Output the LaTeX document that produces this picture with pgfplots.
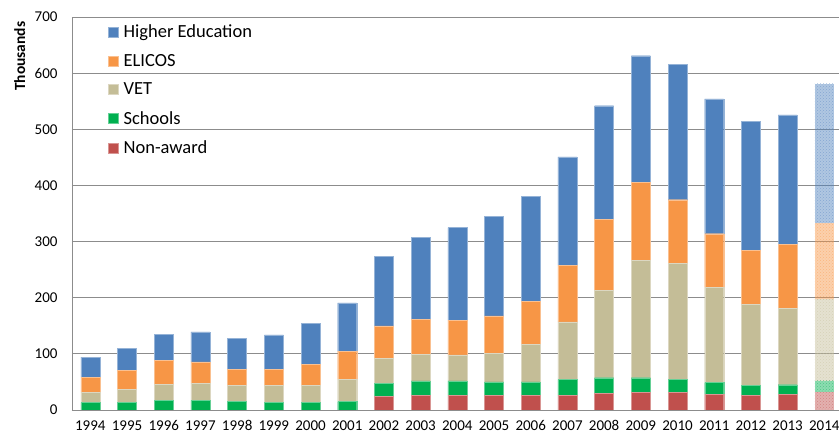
\documentclass[border=0pt]{standalone}
\usepackage{pgfplots}
\pgfplotsset{compat=1.18}
\usepackage{fontspec}
\setmainfont{Carlito}
\usetikzlibrary{patterns}
\definecolor{cHE}{HTML}{4F81BD}
\definecolor{cEL}{HTML}{F79646}
\definecolor{cVET}{HTML}{C4BD97}
\definecolor{cSch}{HTML}{00B050}
\definecolor{cNA}{HTML}{C0504D}
\definecolor{gridc}{HTML}{8C8C8C}
\pgfplotsset{
  base/.style={
    scale only axis, width=767pt, height=393pt,
    xmin=-0.5, xmax=20.4, ymin=0, ymax=700,
    ybar stacked, bar width=19pt,
    axis x line*=bottom, axis y line*=left,
    axis line style={gridc, line width=0.8pt},
    major tick length=0pt,
  },
}
\begin{document}
\begin{tikzpicture}
\path[use as bounding box] (-72pt,-29pt) rectangle (767pt,410pt);
\begin{axis}[base,
  ytick={0,100,...,700},
  ymajorgrids, grid style={gridc, line width=0.8pt},
  xtick={0,...,20},
  xticklabels={1994,1995,1996,1997,1998,1999,2000,2001,2002,2003,2004,2005,2006,2007,2008,2009,2010,2011,2012,2013,2014},
  /pgf/number format/assume math mode=true,
  ticklabel style={font=\fontsize{15}{18}\selectfont},
  yticklabel style={xshift=-11pt},
  xticklabel style={yshift=-7pt},
  ylabel={\bfseries Thousands},
  ylabel style={font=\fontsize{15.5}{18}\selectfont, at={(axis description cs:-0.068,0.90)}, anchor=center, rotate=0},
  legend style={draw=none, fill=none, at={(axis description cs:0.047,0.98)}, anchor=north west,
    font=\fontsize{18.5}{22}\selectfont, row sep=15pt, inner sep=0pt,
    nodes={inner xsep=0pt, inner ysep=0pt},
    /tikz/every odd column/.append style={column sep=5pt}},
  legend cell align=left,
  reverse legend,
  legend image code/.code={\fill[#1] (0pt,-5pt) rectangle (10pt,5pt);},
]
\addplot[fill=cNA, draw=cNA!60!white, line width=0.4pt] coordinates {
(0,0) (1,0) (2,0) (3,0) (4,0) (5,0) (6,0) (7,0) (8,23.7) (9,26) (10,26) (11,26) (12,25.5) (13,26.7) (14,29.7) (15,31.5) (16,31) (17,28) (18,25.5) (19,28)};
\addplot[fill=cSch, draw=cSch!60!white, line width=0.4pt] coordinates {
(0,13) (1,14) (2,17) (3,17) (4,15) (5,13.5) (6,13) (7,15) (8,23.3) (9,26) (10,26) (11,24) (12,24.5) (13,27.3) (14,27.8) (15,26) (16,24) (17,20.7) (18,17.8) (19,17)};
\addplot[fill=cVET, draw=cVET!60!white, line width=0.4pt] coordinates {
(0,19) (1,23) (2,29) (3,31) (4,29.5) (5,31) (6,31.5) (7,40) (8,45) (9,47) (10,46) (11,51.5) (12,67.5) (13,103) (14,155.5) (15,209) (16,205.7) (17,169.8) (18,144.7) (19,135.5)};
\addplot[fill=cEL, draw=cEL!60!white, line width=0.4pt] coordinates {
(0,26) (1,34) (2,42) (3,37.5) (4,28) (5,28.5) (6,36.5) (7,50) (8,58) (9,62.5) (10,62) (11,66) (12,76.5) (13,101) (14,127) (15,139) (16,113.8) (17,95.5) (18,95.8) (19,114.5)};
\addplot[fill=cHE, draw=cHE!60!white, line width=0.4pt] coordinates {
(0,36) (1,39) (2,47) (3,53.5) (4,55.5) (5,61) (6,73) (7,86) (8,124) (9,146) (10,165) (11,177) (12,187) (13,193) (14,202) (15,225.5) (16,241.5) (17,240) (18,230.2) (19,230.5)};
\legend{Non-award,Schools,VET,ELICOS,Higher Education}
\end{axis}
\begin{axis}[base, hide axis]
\addplot[fill=cNA, fill opacity=0.45, draw=none, postaction={pattern=crosshatch dots, pattern color=cNA}] coordinates {(20,32.6)};
\addplot[fill=cSch, fill opacity=0.45, draw=none, postaction={pattern=crosshatch dots, pattern color=cSch}] coordinates {(20,19.1)};
\addplot[fill=cVET, fill opacity=0.45, draw=none, postaction={pattern=crosshatch dots, pattern color=cVET}] coordinates {(20,145.3)};
\addplot[fill=cEL, fill opacity=0.45, draw=none, postaction={pattern=crosshatch dots, pattern color=cEL}] coordinates {(20,135.5)};
\addplot[fill=cHE, fill opacity=0.45, draw=none, postaction={pattern=crosshatch dots, pattern color=cHE}] coordinates {(20,248.2)};
\end{axis}
\end{tikzpicture}
\end{document}
